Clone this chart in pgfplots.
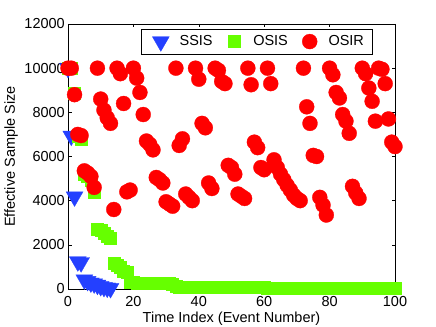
\documentclass[border=0pt]{standalone}
\usepackage{pgfplots}
\pgfplotsset{compat=1.18}
\usepackage{pgfplotstable}
\usepackage{fontspec}
\setmainfont{Liberation Sans}
\definecolor{ssis}{RGB}{36,64,255}
\definecolor{osis}{RGB}{102,255,0}
\definecolor{osir}{RGB}{255,0,0}

\pgfplotstableread{
x y
0 10000
1 6930
2 4180
3 1240
4 1200
5 420
6 350
7 280
8 240
9 180
10 120
11 80
12 50
13 30
}\ssisdata

\pgfplotstableread{
x y
0 10000
1 10000
2 8850
3 6900
4 6800
5 5200
6 5100
7 4950
8 4400
9 2700
10 2650
11 2550
12 2400
13 2300
14 1150
15 1100
16 1000
17 800
18 750
19 320
20 290
21 280
22 280
23 275
24 270
25 270
26 265
27 265
28 260
29 255
30 250
31 245
32 240
33 110
34 105
35 100
36 100
37 95
38 95
39 90
40 90
41 88
42 86
43 84
44 82
45 80
46 78
47 77
48 76
49 75
50 74
51 72
52 70
53 69
54 68
55 67
56 66
57 65
58 64
59 63
60 62
61 61
62 60
63 60
64 59
65 58
66 57
67 56
68 56
69 55
70 54
71 53
72 53
73 52
74 51
75 50
76 50
77 49
78 48
79 48
80 47
81 46
82 46
83 45
84 45
85 44
86 44
87 43
88 43
89 42
90 42
91 41
92 41
93 40
94 40
95 40
96 39
97 39
98 38
99 38
100 37
}\osisdata

\pgfplotstableread{
x y
0 10000
1 10000
2 8800
3 7000
4 6950
5 5350
6 5250
7 5100
8 4600
9 10000
10 8600
11 8100
12 7750
13 7500
14 3600
15 10000
16 9750
17 8400
18 4400
19 4480
20 10000
21 9550
22 8900
23 7900
24 6700
25 6550
26 6300
27 5050
28 4950
29 4800
30 3950
31 3850
32 3750
33 10000
34 6500
35 6800
36 4300
37 4150
38 4000
39 10000
40 9500
41 7500
42 7300
43 4800
44 4550
45 10000
46 9900
47 9400
48 9300
49 5600
50 5500
51 5200
52 4300
53 4200
54 4100
55 10000
56 9250
57 6650
58 6400
59 5500
60 5400
61 10000
62 9300
63 5850
64 5500
65 5200
66 4950
67 4700
68 4480
69 4250
70 4100
71 4000
72 10000
73 8250
74 7500
75 6050
76 6000
77 4150
78 3800
79 3350
80 10000
81 9700
82 8900
83 8650
84 7900
85 7600
86 7050
87 4650
88 4350
89 4100
90 10000
91 9750
92 9100
93 8500
94 7600
95 10000
96 9950
97 9300
98 7700
99 6650
100 6450
}\osirdata

\begin{document}
\begin{tikzpicture}[font=\fontsize{14.5bp}{17bp}\selectfont]
\begin{axis}[
  set layers=standard,
  scale only axis, width=327bp, height=265bp,
  xmin=0, xmax=100, ymin=0, ymax=12000,
  clip=false,
  scaled y ticks=false, scaled x ticks=false,
  xtick={0,20,...,100}, xticklabels={0,20,40,60,80,100},
  ytick={0,2000,...,12000}, yticklabels={0,2000,4000,6000,8000,10000,12000},
  tick align=inside, major tick length=3.5bp,
  axis line style={line width=0.5pt, black},
  tick style={line width=0.5pt, black},
  xticklabel style={anchor=base, yshift=-17.7bp, inner sep=0pt},
  yticklabel style={anchor=east, xshift=-3bp, inner sep=0pt},
  xlabel={Time Index (Event Number)},
  ylabel={Effective Sample Size},
  xlabel style={at={(axis description cs:0.5,-0.127)}, anchor=base, inner sep=0pt},
  ylabel style={at={(axis description cs:-0.1743,0.5)}, anchor=center, inner sep=0pt},
  legend columns=3,
  legend style={at={(axis description cs:0.9297,0.9811)}, anchor=north east,
    draw=black, line width=0.5pt, inner xsep=3bp, inner ysep=2bp,
    font=\fontsize{14.5bp}{17bp}\selectfont,
    nodes={inner xsep=4.8bp, inner ysep=4.5bp},
    /tikz/every even column/.append style={column sep=0bp}},
  legend image code/.code={\path[draw=none,fill=none] (-17bp,-6bp) rectangle (14bp,6bp);
    \draw[mark repeat=2,mark phase=2,#1] plot coordinates {(-10bp,0bp) (0bp,0bp) (10bp,0bp)};},
]
\addplot[ssis, only marks, mark=triangle*, mark size=9.8bp,
  mark options={rotate=180, draw=ssis, fill=ssis, line width=0.3pt}] table {\ssisdata};
\addplot[osis, only marks, mark=square*, mark size=6bp,
  mark options={draw=osis, fill=osis, line width=0.3pt}] table {\osisdata};
\addplot[osir, only marks, mark=*, mark size=7.5bp,
  mark options={draw=osir, fill=osir, line width=0.3pt}] table {\osirdata};
\legend{SSIS,OSIS,OSIR}
\end{axis}
\pgfresetboundingbox
\path[use as bounding box] (-68bp,-38bp) rectangle (368bp,289bp);
\end{tikzpicture}
\end{document}
